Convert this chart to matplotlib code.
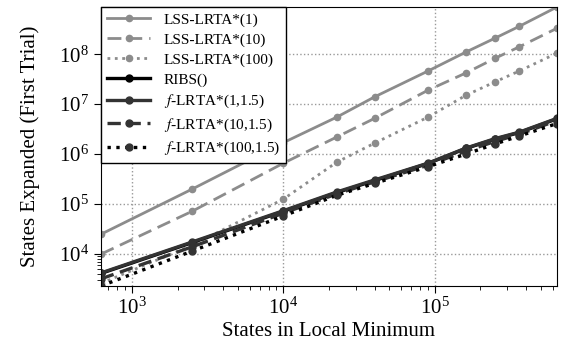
import matplotlib
matplotlib.use("Agg")
import matplotlib.pyplot as plt
from matplotlib.ticker import FixedLocator, NullFormatter

plt.rcParams['font.family'] = ['Liberation Serif', 'DejaVu Serif']
plt.rcParams['mathtext.fontset'] = 'stix'

# states in local minimum (grid sizes squared)
states = [625, 2500, 10000, 22500, 40000, 90000, 160000, 250000, 360000, 640000]

lss_1 = [2.5e4, 2.0e5, 1.7e6, 5.5e6, 1.4e7, 4.6e7, 1.1e8, 2.1e8, 3.6e8, 8.8e8]
lss_10 = [1.0e4, 7.2e4, 6.6e5, 2.2e6, 5.2e6, 1.9e7, 4.2e7, 8.3e7, 1.4e8, 3.3e8]
lss_100 = [2.6e3, 1.5e4, 1.26e5, 6.9e5, 1.66e6, 5.5e6, 1.5e7, 2.8e7, 4.6e7, 1.05e8]
ribs = [4.1e3, 1.7e4, 7.2e4, 1.7e5, 2.96e5, 6.5e5, 1.3e6, 2.0e6, 2.7e6, 5.1e6]
f_1 = [4.2e3, 1.75e4, 7.4e4, 1.75e5, 3.05e5, 6.6e5, 1.32e6, 2.05e6, 2.75e6, 5.2e6]
f_10 = [3.2e3, 1.4e4, 6.6e4, 1.6e5, 2.8e5, 6.0e5, 1.15e6, 1.8e6, 2.5e6, 4.7e6]
f_100 = [2.3e3, 1.15e4, 5.8e4, 1.5e5, 2.6e5, 5.6e5, 1.0e6, 1.6e6, 2.3e6, 4.1e6]

gray = '#8c8c8c'
dark = '#333333'

fig = plt.figure(figsize=(5.63, 3.47), dpi=100)
ax = fig.add_axes([0.1794, 0.1758, 0.8099, 0.8040])

ax.plot(states, lss_1, '-', color=gray, lw=2, marker='o', ms=4.5, label='LSS-LRTA*(1)')
ax.plot(states, lss_10, '--', color=gray, lw=2, marker='o', ms=4.5, dashes=(5, 2.5), label='LSS-LRTA*(10)')
ax.plot(states, lss_100, ':', color=gray, lw=2, marker='o', ms=4.5, label='LSS-LRTA*(100)')
ax.plot(states, ribs, '-', color='black', lw=2.4, marker='o', ms=5, label='RIBS()')
ax.plot(states, f_1, '-', color=dark, lw=2.4, marker='o', ms=5, label='$f$-LRTA*(1,1.5)')
ax.plot(states, f_10, '--', color=dark, lw=2.4, marker='o', ms=5, dashes=(4, 2), label='$f$-LRTA*(10,1.5)')
ax.plot(states, f_100, ':', color='black', lw=2.4, marker='o', ms=5, mfc=dark, mec=dark,
        label='$f$-LRTA*(100,1.5)')

ax.set_xscale('log')
ax.set_yscale('log')
ax.set_xlim(min(states), max(states))
ax.set_ylim(min(f_100), max(lss_1))

ax.yaxis.set_minor_locator(FixedLocator([3e3, 4e3, 5e3, 6e3, 7e3, 8e3, 9e3]))
ax.yaxis.set_minor_formatter(NullFormatter())

ax.grid(True, which='major', linestyle=':', color='#999999', lw=1)
ax.tick_params(which='both', direction='out', labelsize=15, top=False, right=False)
ax.tick_params(which='major', length=5)
ax.tick_params(which='minor', length=3)

ax.set_xlabel('States in Local Minimum', fontsize=15, labelpad=2)
ax.set_ylabel('States Expanded (First Trial)', fontsize=15, labelpad=14)

leg = ax.legend(loc='upper left', fontsize=11, borderaxespad=0, fancybox=False,
                framealpha=1, edgecolor='black', handlelength=2.8, handletextpad=0.9,
                labelspacing=0.4)
leg.get_frame().set_linewidth(1)

fig.savefig('out.png', dpi=100)
